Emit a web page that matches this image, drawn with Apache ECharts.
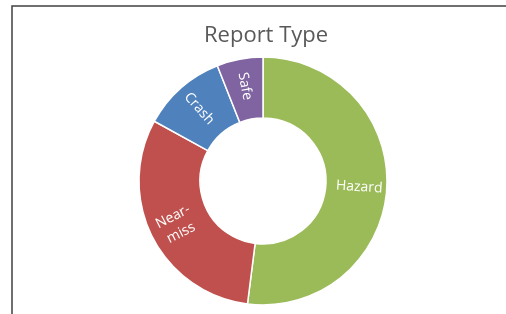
<!DOCTYPE html>
<html>
<head>
<meta charset="utf-8">
<script src="https://cdn.jsdelivr.net/npm/echarts@6/dist/echarts.min.js"></script>
<style>
    html, body { margin: 0; padding: 0; background: #fff; }
    #chart { width: 506px; height: 314px; }
</style>
</head>
<body>
<div id="chart"></div>
<script>
var categories = ['Hazard', 'Near-miss', 'Crash', 'Safe'];
var shares = [52, 31, 11, 6];
var sliceLabels = ['Hazard', 'Near-\nmiss', 'Crash', 'Safe'];
var colors = ['#9bbb59', '#c0504d', '#4f81bd', '#8064a2'];

var myChart = echarts.init(document.getElementById('chart'));
var option = {
    animation: false,
    title: {
        text: 'Report Type',
        left: 199,
        top: 20,
        textStyle: { fontFamily: 'Open Sans', fontSize: 22, fontWeight: 'normal', color: '#595959' }
    },
    graphic: [{
        type: 'polyline',
        shape: { points: [[12, 314], [12, 6], [506, 6]] },
        style: { stroke: '#404040', lineWidth: 1.5, fill: null }
    }],
    series: [{
        type: 'pie',
        center: [263, 181],
        radius: [63, 124],
        startAngle: 90,
        clockwise: true,
        itemStyle: { borderColor: '#fff', borderWidth: 1.5 },
        label: {
            position: 'inside',
            rotate: 'radial',
            color: '#fff',
            fontFamily: 'Open Sans',
            fontSize: 14,
            lineHeight: 18,
            formatter: function (p) { return sliceLabels[p.dataIndex]; }
        },
        labelLine: { show: false },
        data: categories.map(function (c, i) {
            return { name: c, value: shares[i], itemStyle: { color: colors[i] } };
        })
    }]
};
myChart.setOption(option);
</script>
</body>
</html>
